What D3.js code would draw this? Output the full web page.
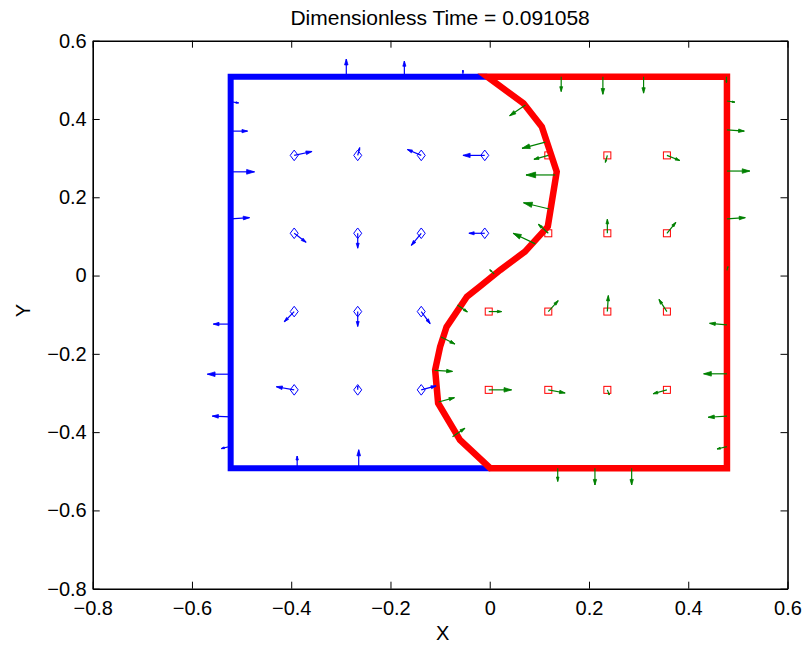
<!DOCTYPE html>
<html><head><meta charset="utf-8">
<script src="https://cdn.jsdelivr.net/npm/d3@7"></script>
<style>body{margin:0;background:#fff}svg{display:block}text{font-family:"Liberation Sans",Arial,Helvetica,sans-serif;fill:#000}</style>
</head><body>
<script>
// ---- data ----
const titleText = "Dimensionless Time = 0.091058";
const xTicks = [-0.8,-0.6,-0.4,-0.2,0,0.2,0.4,0.6];
const yTicks = [-0.8,-0.6,-0.4,-0.2,0,0.2,0.4,0.6];
const boxX = [-0.522, 0.478];
const boxY = [-0.492, 0.508];
// interface curve (top to bottom)
const ifX = [-0.005,0.068,0.105,0.135,0.117,0.071,0.021,-0.020,-0.046,-0.087,-0.100,-0.110,-0.104,-0.060,0.001];
const ifY = [0.508,0.440,0.380,0.265,0.125,0.061,0.014,-0.028,-0.054,-0.131,-0.182,-0.241,-0.326,-0.420,-0.492];
// blue markers (diamonds) and their velocities
const blueMarkX = [-0.394,-0.266,-0.138,-0.010,-0.394,-0.266,-0.138,-0.010,-0.394,-0.266,-0.138,-0.394,-0.266,-0.138];
const blueMarkY = [0.307,0.307,0.307,0.307,0.108,0.108,0.108,0.108,-0.092,-0.092,-0.092,-0.292,-0.292,-0.292];
const blueMarkU = [0.036,0.004,-0.028,-0.044,0.024,0,-0.020,-0.032,-0.020,0,0.018,-0.036,0,0.030];
const blueMarkV = [0.010,0.020,0.015,0,-0.023,-0.038,-0.031,0,-0.026,-0.038,-0.031,0.008,0.010,0.010];
// red markers (squares) and their velocities
const redMarkX = [0.118,0.237,0.357,0.118,0.237,0.357,-0.002,0.118,0.237,0.357,-0.002,0.118,0.237,0.357];
const redMarkY = [0.307,0.307,0.307,0.108,0.108,0.108,-0.092,-0.092,-0.092,-0.092,-0.292,-0.292,-0.292,-0.292];
const redMarkU = [-0.029,-0.004,0.026,-0.020,0,0.018,0.026,0.020,0.002,-0.016,0.046,0.034,0.004,-0.028];
const redMarkV = [-0.010,-0.018,-0.013,0.023,0.036,0.028,0,0.028,0.041,0.031,0,-0.008,-0.013,-0.010];
// blue boundary velocities
const blueEdgeX = [-0.289,-0.172,-0.054,-0.388,-0.264,-0.522,-0.522,-0.522,-0.522,-0.522,-0.522,-0.522,-0.522];
const blueEdgeY = [0.508,0.508,0.508,-0.492,-0.492,0.444,0.369,0.265,0.145,-0.124,-0.252,-0.361,-0.436];
const blueEdgeU = [0,0,0,0,0,0.016,0.034,0.048,0.038,-0.035,-0.047,-0.037,-0.019];
const blueEdgeV = [0.045,0.040,0.017,0.031,0.047,-0.003,0,0,0.003,0,0,0.002,-0.006];
// red boundary velocities
const greenEdgeX = [0.144,0.228,0.310,0.477,0.137,0.212,0.286,0.478,0.478,0.478,0.478,0.478,0.478,0.478,0.478,0.478];
const greenEdgeY = [0.508,0.508,0.508,0.508,-0.492,-0.492,-0.492,0.446,0.372,0.267,0.145,0.013,-0.126,-0.251,-0.359,-0.437];
const greenEdgeU = [0,0,0,0,0,0,0,0.016,0.035,0.046,0.037,0.002,-0.035,-0.047,-0.038,-0.020];
const greenEdgeV = [-0.038,-0.045,-0.042,-0.015,-0.034,-0.043,-0.043,-0.003,-0.003,0,0.003,0.010,0.004,0,-0.003,-0.006];
// interface velocities
const ifArrowX = [0.072,0.112,0.132,0.120,0.092,0.009,-0.065,-0.098,-0.111,-0.103,-0.075];
const ifArrowY = [0.436,0.341,0.257,0.170,0.081,0.004,-0.075,-0.157,-0.242,-0.323,-0.412];
const ifArrowU = [-0.032,-0.047,-0.059,-0.052,-0.045,-0.009,0.020,0.028,0.036,0.032,0.025];
const ifArrowV = [-0.028,-0.016,0,0.016,0.027,0.011,-0.018,-0.018,-0.003,0.011,0.022];

// ---- chart ----
const W = 806, H = 645;
const M = {left: 92.7, right: 787.5, top: 40.7, bottom: 588.7};
const svg = d3.select("body").append("svg").attr("width", W).attr("height", H);
const x = d3.scaleLinear().domain([-0.8, 0.6]).range([M.left, M.right]);
const y = d3.scaleLinear().domain([-0.8, 0.6]).range([M.bottom, M.top]);
const fmt = d => d === 0 ? "0" : d3.format(".1f")(d);
const FS = 20;

const line = d3.line().x(d => x(d[0])).y(d => y(d[1]));

// blue region outline
const bluePts = [[ifX[0], boxY[1]], [boxX[0], boxY[1]], [boxX[0], boxY[0]], [ifX[ifX.length-1], boxY[0]]];
svg.append("path").attr("d", line(bluePts)).attr("fill", "none")
  .attr("stroke", "#0000ff").attr("stroke-width", 6).attr("stroke-linejoin", "miter");
// red region outline
const redPts = [[ifX[0], boxY[1]], [boxX[1], boxY[1]], [boxX[1], boxY[0]], [ifX[ifX.length-1], boxY[0]]];
for (let i = ifX.length - 1; i >= 0; i--) redPts.push([ifX[i], ifY[i]]);
svg.append("path").attr("d", line(redPts) + "Z").attr("fill", "none")
  .attr("stroke", "#ff0000").attr("stroke-width", 6.5).attr("stroke-linejoin", "miter");

// markers
blueMarkX.forEach((mx, i) => {
  const cx = x(mx), cy = y(blueMarkY[i]);
  svg.append("path").attr("d", `M${cx},${cy-5.3}L${cx+4},${cy}L${cx},${cy+5.3}L${cx-4},${cy}Z`)
    .attr("fill", "none").attr("stroke", "#0000ff").attr("stroke-width", 1);
});
redMarkX.forEach((mx, i) => {
  const cx = x(mx), cy = y(redMarkY[i]);
  svg.append("rect").attr("x", cx-3.5).attr("y", cy-3.5).attr("width", 7).attr("height", 7)
    .attr("fill", "none").attr("stroke", "#ff0000").attr("stroke-width", 1);
});

// arrows (quiver style)
function arrows(X, Y, U, V, color) {
  const g = svg.append("g");
  X.forEach((bx, i) => {
    const x0 = x(bx), y0 = y(Y[i]), x1 = x(bx + U[i]), y1 = y(Y[i] + V[i]);
    const dx = x1 - x0, dy = y1 - y0, len = Math.hypot(dx, dy);
    if (len < 0.5) return;
    const a = 0.33, b = 0.3;
    const hx1 = x1 - a * (dx + b * dy), hy1 = y1 - a * (dy - b * dx);
    const hx2 = x1 - a * (dx - b * dy), hy2 = y1 - a * (dy + b * dx);
    g.append("line").attr("x1", x0).attr("y1", y0).attr("x2", x1).attr("y2", y1)
      .attr("stroke", color).attr("stroke-width", 1.2);
    g.append("path").attr("d", `M${hx1},${hy1}L${x1},${y1}L${hx2},${hy2}Z`)
      .attr("fill", color).attr("stroke", color).attr("stroke-width", 0.8).attr("stroke-linejoin", "round");
  });
}
arrows(blueEdgeX, blueEdgeY, blueEdgeU, blueEdgeV, "#0000ff");
arrows(blueMarkX, blueMarkY, blueMarkU, blueMarkV, "#0000ff");
arrows(greenEdgeX, greenEdgeY, greenEdgeU, greenEdgeV, "#008000");
arrows(redMarkX, redMarkY, redMarkU, redMarkV, "#008000");
arrows(ifArrowX, ifArrowY, ifArrowU, ifArrowV, "#008000");

// axes
const ax = svg.append("g").attr("transform", `translate(0,${M.bottom})`)
  .call(d3.axisBottom(x).tickValues(xTicks).tickFormat(fmt).tickSize(-7).tickSizeOuter(0).tickPadding(12));
const ay = svg.append("g").attr("transform", `translate(${M.left},0)`)
  .call(d3.axisLeft(y).tickValues(yTicks).tickFormat(fmt).tickSize(-7).tickSizeOuter(0).tickPadding(6));
const at = svg.append("g").attr("transform", `translate(0,${M.top})`)
  .call(d3.axisTop(x).tickValues(xTicks).tickFormat("").tickSize(-7).tickSizeOuter(0));
const ar = svg.append("g").attr("transform", `translate(${M.right},0)`)
  .call(d3.axisRight(y).tickValues(yTicks).tickFormat("").tickSize(-7).tickSizeOuter(0));
[ax, ay, at, ar].forEach(g => {
  g.select(".domain").attr("stroke", "#000").attr("stroke-width", 1.6);
  g.selectAll(".tick line").attr("stroke", "#000").attr("stroke-width", 1);
  g.selectAll("text").style("font-size", FS + "px").attr("fill", "#000")
    .style("font-family", '"Liberation Sans",Arial,Helvetica,sans-serif');
});

// labels
svg.append("text").attr("x", (M.left + M.right) / 2).attr("y", 25).attr("text-anchor", "middle")
  .style("font-size", "21px").text(titleText);
svg.append("text").attr("x", (M.left + M.right) / 2 + 2.5).attr("y", 640).attr("text-anchor", "middle")
  .style("font-size", FS + "px").text("X");
svg.append("text").attr("transform", `translate(30,${(M.top + M.bottom) / 2 - 4}) rotate(-90)`)
  .attr("text-anchor", "middle").style("font-size", FS + "px").text("Y");
</script>
</body></html>
